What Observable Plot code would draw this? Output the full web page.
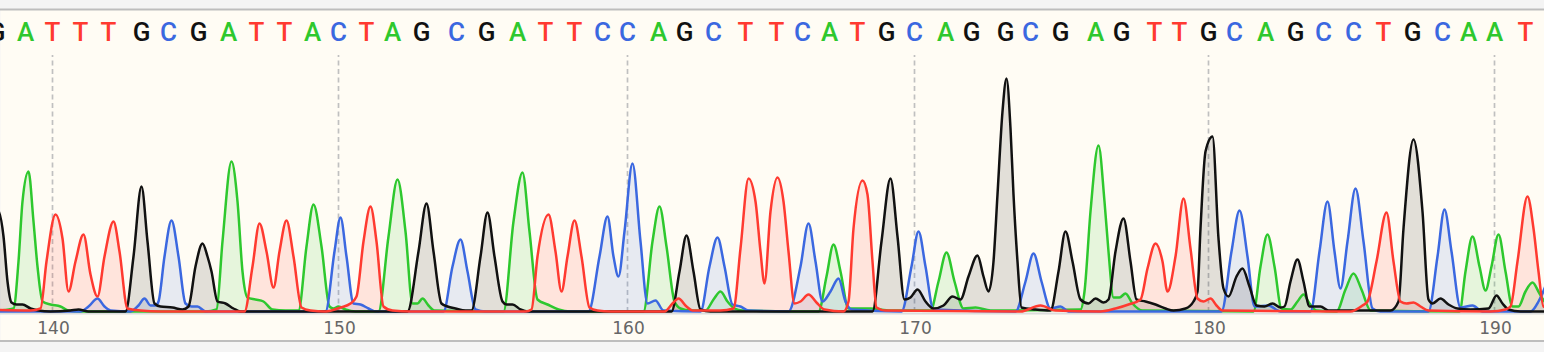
<!DOCTYPE html>
<html><head><meta charset="utf-8">
<script src="https://cdn.jsdelivr.net/npm/d3@7"></script>
<script src="https://cdn.jsdelivr.net/npm/@observablehq/plot@0.6"></script>
<style>
html,body{margin:0;padding:0;background:#f4f4f4;}
#chart svg{display:block}
g[aria-label="position labels"] text{letter-spacing:2px}
</style></head><body><div id="chart"></div>
<script>
// Base calls (first visible base is #138) and their peak positions (scan units)
const firstBase = 138;
const baseCalls = "GATTTGCGATTACTAGCGATTCCAGCTTCATGCAGGCGAGTTGCAGCCTGCAAT".split("");
const basePositions = [-4,25,52,80,108,141,168,198,228,256,284,312,338,366,392,421,456,486,517,545,
  574,602,627,658,684,713,745,776,802,829,857,886,914,945,971,1005,1030,1060,1095,1121,
  1154,1179,1208,1234,1265,1295,1323,1353,1383,1412,1442,1468,1494,1525];
const tickBases = [140,150,160,170,180,190];

// Trace vertices per channel: [scan, signal]
const traceA = [[-20,0],[0,1],[13,3],[18,50],[22,110],[28,140],[33,90],[37,45],[42,10],[50,7],[60,5],[68,1],[80,0],
  [205,0],[216,2],[222,70],[231,150],[237,110],[242,40],[247,14],[255,12],[263,10],[272,2],[285,1],
  [298,1],[306,65],[313,107],[321,65],[329,5],[333,3],[338,5],[345,2],[355,0],
  [378,0],[388,75],[397,132],[405,80],[412,8],[417,8],[422,13],[428,6],[434,1],
  [503,0],[513,90],[522,139],[529,80],[537,12],[547,7],[558,2],[570,0],
  [643,0],[652,70],[659,105],[666,65],[674,10],[680,3],[690,1],
  [705,1],[713,12],[720,20],[727,10],[734,3],[742,1],
  [818,0],[826,35],[833,67],[840,40],[848,3],[870,3],[890,1],
  [930,1],[938,30],[946,59],[954,30],[963,3],[975,4],[990,1],
  [1080,2],[1084,20],[1090,100],[1098,166],[1104,110],[1108,60],[1113,14],[1119,14],[1125,18],[1132,8],[1142,1],
  [1253,0],[1260,45],[1267,77],[1274,45],[1281,3],[1290,2],[1297,10],[1303,17],[1309,8],[1316,1],
  [1336,0],[1345,22],[1353,38],[1361,22],[1370,1],
  [1459,0],[1465,40],[1472,75],[1479,45],[1485,21],[1491,45],[1498,77],[1505,40],[1512,5],[1518,5],[1525,20],[1532,29],[1539,18],[1546,8],[1565,3]];
const traceC = [[-20,0],[80,0],[88,5],[97,13],[104,5],[110,1],[130,0],[138,6],[144,13],[150,6],[155,6],[158,10],[164,55],[171,91],[178,55],[185,8],[191,5],[197,5],[205,0],
  [325,0],[334,60],[340,94],[346,55],[353,8],[360,7],[368,3],[376,0],
  [443,0],[452,45],[460,72],[467,40],[475,2],[485,0],
  [588,0],[599,55],[607,95],[613,55],[618,35],[624,80],[632,148],[640,70],[647,8],[655,11],[663,1],
  [700,0],[709,45],[717,74],[724,45],[732,7],[740,5],[748,1],
  [788,0],[800,45],[808,88],[815,50],[822,10],[830,20],[838,33],[845,10],[851,2],
  [901,0],[911,45],[918,80],[925,45],[933,2],
  [1015,0],[1025,30],[1033,58],[1041,30],[1050,3],[1060,5],[1068,0],
  [1221,0],[1231,60],[1239,101],[1247,55],[1254,5],[1268,6],[1280,0],
  [1310,0],[1319,60],[1327,110],[1334,60],[1340,23],[1347,70],[1355,123],[1363,70],[1372,3],[1380,0],
  [1428,0],[1437,55],[1444,102],[1451,60],[1460,4],[1472,6],[1482,0],
  [1530,0],[1538,10],[1544,23],[1552,50]];
const traceG = [[-20,40],[-3,102],[3,75],[7,30],[11,9],[16,7],[22,7],[30,3],[38,1],[50,0],[70,1],[78,2],[88,0],
  [125,0],[133,55],[141,125],[147,70],[154,8],[160,5],[172,4],[182,2],[188,5],[195,45],[202,68],[207,55],[211,40],[217,10],[225,8],[233,3],[240,0],
  [407,0],[418,60],[426,108],[433,60],[441,8],[447,5],[455,3],[465,1],[471,1],[480,55],[487,99],[494,55],[502,10],[506,7],[512,7],[520,2],[528,0],
  [671,0],[679,40],[686,76],[693,40],[700,2],[710,0],
  [872,0],[881,70],[890,133],[897,75],[904,12],[910,14],[917,22],[925,10],[933,3],[943,6],[952,15],[960,12],[968,35],[977,56],[983,35],[988,20],
  [993,50],[997,117],[1002,200],[1006,233],[1010,183],[1013,117],[1017,50],[1021,4],[1035,2],[1050,1],[1058,40],[1065,80],[1072,50],[1080,12],
  [1088,8],[1095,13],[1103,9],[1108,12],[1115,60],[1123,93],[1130,50],[1136,12],[1145,10],[1155,7],[1165,3],[1173,1],[1185,3],[1193,10],
  [1197,20],[1200,83],[1205,160],[1212,175],[1218,73],[1223,23],[1228,15],[1236,35],[1242,43],[1249,25],[1256,6],[1264,5],[1272,8],[1280,4],
  [1284,5],[1290,30],[1297,52],[1303,30],[1309,5],[1320,5],[1328,1],[1390,1],[1398,10],[1403,83],[1413,172],[1422,100],[1428,12],[1432,8],
  [1440,13],[1448,7],[1457,3],[1470,2],[1488,3],[1496,16],[1502,8],[1508,2],[1520,0],[1565,0]];
const traceT = [[-20,2],[30,1],[40,3],[46,50],[55,97],[62,73],[68,20],[75,50],[83,77],[90,37],[97,15],[104,55],[113,90],[119,60],[127,3],[140,1],[160,0],
  [244,0],[252,45],[259,88],[266,60],[273,24],[279,60],[286,91],[293,55],[301,4],[310,1],
  [325,0],[340,4],[350,8],[356,15],[363,70],[370,105],[376,70],[383,5],[392,1],[410,0],
  [525,0],[531,2],[537,55],[548,97],[555,60],[561,20],[567,55],[574,91],[581,55],[589,4],[597,1],[610,0],
  [664,0],[672,8],[678,13],[686,5],[692,1],
  [720,1],[733,3],[740,63],[748,133],[755,110],[760,60],[764,28],[770,100],[777,134],[783,110],[788,60],[794,8],[800,10],[808,17],[816,9],[824,2],
  [843,0],[848,10],[853,83],[862,131],[867,117],[872,50],[876,4],[885,1],
  [1020,0],[1040,6],[1055,1],
  [1100,0],[1115,3],[1128,7],[1140,12],[1147,43],[1155,68],[1162,50],[1167,20],[1175,55],[1183,113],[1190,63],[1197,13],[1203,10],[1210,13],[1216,6],[1222,1],
  [1350,0],[1362,6],[1367,10],[1376,50],[1386,99],[1393,50],[1400,10],[1406,8],[1413,9],[1420,5],[1428,1],
  [1490,0],[1505,2],[1510,5],[1517,50],[1527,115],[1533,83],[1538,40],[1543,5],[1565,1]];

const channels = ["A","C","G","T"];
const channelColors = ["#2ec82e","#3b68e0","#111111","#ff3a30"];

const traces = {A: traceA, C: traceC, G: traceG, T: traceT};
const rows = channels.flatMap(b => traces[b].map(([scan, signal]) => ({base: b, scan, signal})));
const calls = baseCalls.map((b, i) => ({base: b, pos: basePositions[i], n: firstBase + i}));
const tickRows = tickBases.map(n => ({label: String(n), pos: basePositions[n - firstBase]}));

const chart = Plot.plot({
  width: 1544, height: 352,
  marginTop: 9, marginBottom: 11.5, marginLeft: 0, marginRight: 0,
  style: {background: "#f4f4f4", overflow: "hidden"},
  x: {domain: [0, 1544], range: [0, 1544], axis: null},
  y: {domain: [0, 256], range: [311, 55], axis: null},
  color: {domain: channels, range: channelColors},
  marks: [
    Plot.frame({fill: "#fffcf4", stroke: "none"}),
    Plot.frame({anchor: "top", stroke: "#bdbdbd", strokeWidth: 2}),
    Plot.frame({anchor: "bottom", stroke: "#bdbdbd", strokeWidth: 2}),
    Plot.ruleX(tickRows, {x: "pos", y1: -1, y2: 256, stroke: "#c0c0c0", strokeWidth: 1.7, strokeDasharray: "5,3.5"}),
    Plot.ruleY([0], {stroke: "#dcdcdc", strokeWidth: 2, dy: 2}),
    Plot.areaY(rows, {x: "scan", y1: 0, y2: "signal", z: "base", fill: "base", fillOpacity: 0.12, curve: "monotone-x", clip: true}),
    Plot.lineY(rows, {x: "scan", y: "signal", z: "base", stroke: "base", strokeWidth: 2.5, curve: "monotone-x", clip: true}),
    Plot.text(calls, {x: "pos", text: "base", fill: "base", frameAnchor: "top", lineAnchor: "middle", dy: 23.5, fontSize: 26, fontWeight: 500, fontFamily: "Roboto"}),
    Plot.text(tickRows, {x: "pos", text: "label", frameAnchor: "bottom", lineAnchor: "middle", dx: 1, dy: -12.5, fontSize: 17, fill: "#666", fontFamily: "DejaVu Sans", ariaLabel: "position labels"})
  ]
});
document.getElementById("chart").appendChild(chart);
</script></body></html>
